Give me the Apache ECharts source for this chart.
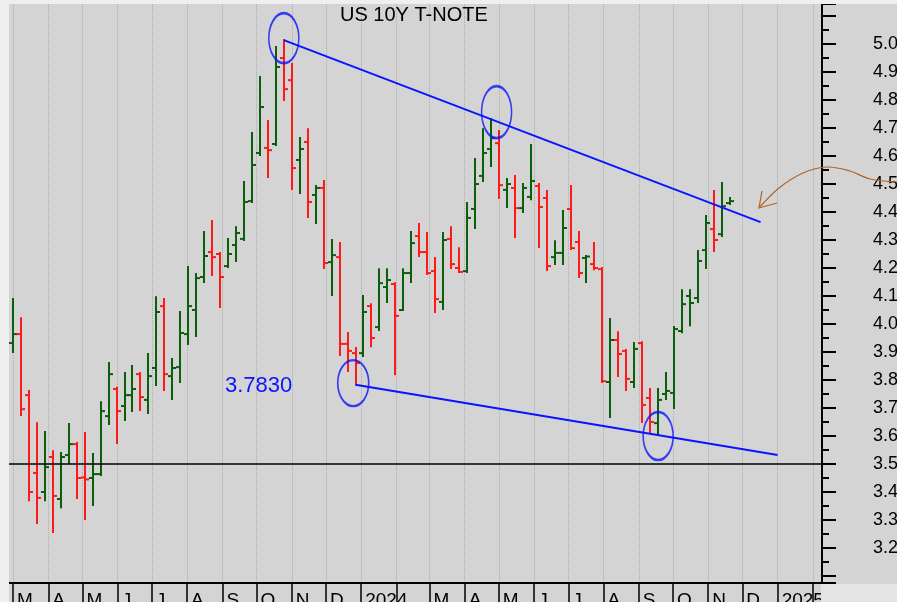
<!DOCTYPE html>
<html>
<head>
<meta charset="utf-8">
<title>US 10Y T-NOTE</title>
<script src="https://cdn.jsdelivr.net/npm/echarts@6/dist/echarts.min.js"></script>
<style>
  html, body { margin: 0; padding: 0; background: #d4d4d4; }
  #chart { width: 897px; height: 602px; }
</style>
</head>
<body>
<div id="chart"></div>
<script>
// weekly bars, first one in the week of 1 Mar 2023
const firstWeek = [2023, 2, 1]
const opens = [3.932, 3.964, 3.746, 3.468, 3.400, 3.525, 3.375, 3.532, 3.571, 3.452,
  3.450, 3.464, 3.671, 3.768, 3.707, 3.746, 3.821, 3.729, 3.843, 4.064,
  3.814, 3.846, 3.964, 4.050, 4.168, 4.257, 4.250, 4.207, 4.282, 4.304,
  4.439, 4.611, 4.629, 4.643, 4.950, 4.871, 4.586, 4.650, 4.461, 4.486,
  4.221, 4.239, 3.929, 3.896, 3.896, 4.064, 3.989, 4.132, 4.143, 4.050,
  4.182, 4.314, 4.257, 4.189, 4.079, 4.304, 4.200, 4.189, 4.411, 4.529,
  4.625, 4.646, 4.479, 4.486, 4.414, 4.454, 4.493, 4.450, 4.239, 4.254,
  4.411, 4.293, 4.236, 4.214, 4.196, 3.793, 3.943, 3.904, 3.793, 3.932,
  3.736, 3.646, 3.750, 3.754, 3.975, 4.100, 4.093, 4.264, 4.339, 4.321, 4.432]
const highs = [4.089, 4.021, 3.761, 3.646, 3.614, 3.546, 3.539, 3.643, 3.575, 3.611,
  3.536, 3.721, 3.861, 3.772, 3.825, 3.850, 3.825, 3.893, 4.096, 4.089,
  3.875, 4.043, 4.204, 4.179, 4.329, 4.368, 4.254, 4.304, 4.346, 4.507,
  4.682, 4.882, 4.725, 4.989, 5.014, 4.929, 4.664, 4.696, 4.493, 4.511,
  4.300, 4.289, 3.968, 3.914, 4.100, 4.071, 4.196, 4.196, 4.146, 4.196,
  4.329, 4.357, 4.325, 4.236, 4.325, 4.346, 4.271, 4.432, 4.589, 4.696,
  4.732, 4.689, 4.518, 4.529, 4.500, 4.639, 4.500, 4.475, 4.296, 4.404,
  4.493, 4.329, 4.243, 4.289, 4.200, 4.018, 3.971, 3.907, 3.932, 3.935,
  3.768, 3.768, 3.825, 3.989, 4.121, 4.121, 4.261, 4.386, 4.475, 4.504, 4.450]
const lows = [3.900, 3.675, 3.371, 3.289, 3.371, 3.257, 3.346, 3.504, 3.379, 3.304,
  3.354, 3.461, 3.643, 3.575, 3.657, 3.689, 3.693, 3.682, 3.782, 3.764,
  3.732, 3.793, 3.929, 3.957, 4.150, 4.175, 4.061, 4.204, 4.225, 4.300,
  4.436, 4.604, 4.525, 4.639, 4.800, 4.482, 4.468, 4.382, 4.361, 4.200,
  4.104, 3.889, 3.832, 3.783, 3.886, 3.921, 3.979, 4.079, 3.821, 4.050,
  4.150, 4.243, 4.179, 4.043, 4.054, 4.200, 4.186, 4.186, 4.343, 4.511,
  4.564, 4.450, 4.418, 4.311, 4.400, 4.446, 4.275, 4.193, 4.214, 4.214,
  4.268, 4.168, 4.150, 4.196, 3.793, 3.668, 3.814, 3.764, 3.775, 3.650,
  3.611, 3.604, 3.732, 3.700, 3.971, 3.996, 4.079, 4.200, 4.261, 4.314, 4.429]
const closes = [3.964, 3.696, 3.400, 3.379, 3.489, 3.386, 3.525, 3.571, 3.450, 3.445,
  3.464, 3.689, 3.821, 3.689, 3.746, 3.768, 3.739, 3.814, 4.043, 3.821,
  3.843, 3.968, 4.064, 4.164, 4.243, 4.239, 4.168, 4.250, 4.325, 4.436,
  4.568, 4.775, 4.621, 4.918, 4.839, 4.557, 4.625, 4.436, 4.486, 4.218,
  4.246, 3.929, 3.904, 3.861, 4.043, 3.950, 4.146, 4.157, 4.029, 4.182,
  4.289, 4.257, 4.182, 4.089, 4.300, 4.214, 4.186, 4.379, 4.500, 4.611,
  4.664, 4.496, 4.500, 4.414, 4.486, 4.511, 4.418, 4.207, 4.254, 4.343,
  4.271, 4.182, 4.241, 4.200, 3.796, 3.943, 3.893, 3.804, 3.911, 3.711,
  3.650, 3.729, 3.761, 3.982, 4.071, 4.075, 4.225, 4.361, 4.300, 4.421, 4.439]

// trend lines: [date, value] end points
const upperTrend = [['2023-10-25', 5.014], ['2024-12-17', 4.364]]
const lowerTrend = [['2023-12-27', 3.783], ['2025-01-01', 3.532]]
// highlighted turning points: date, value, ellipse size
const circles = [
  ['2023-10-25', 5.021, 30, 50],
  ['2024-04-29', 4.757, 30, 52],
  ['2023-12-25', 3.789, 31, 46],
  ['2024-09-18', 3.600, 30, 48]
]
const supportLevel = 3.5
const lowLabel = '3.7830'

const UP = '#0b5e0b'
const DOWN = '#ff1a1a'
const BLUE = '#0a14ff'
const FONT = '"Liberation Sans", Arial, sans-serif'
const MONTHS = 'JFMAMJJASOND'
const DAY = 86400000

// colour follows the close against the previous week's close
const bars = closes.map((c, i) => {
  const d = new Date(firstWeek[0], firstWeek[1], firstWeek[2] + 7 * i)
  const prev = i === 0 ? opens[0] : closes[i - 1]
  return [d.getTime(), opens[i], highs[i], lows[i], c, c >= prev ? 1 : 0]
})

function renderOhlc(params, api) {
  const t = api.value(0)
  const pO = api.coord([t, api.value(1)])
  const pH = api.coord([t, api.value(2)])
  const pL = api.coord([t, api.value(3)])
  const pC = api.coord([t, api.value(4)])
  const x = Math.round(pH[0])
  const style = { stroke: api.value(5) ? UP : DOWN, lineWidth: 2 }
  return {
    type: 'group',
    children: [
      { type: 'line', shape: { x1: x, y1: pH[1] - 1, x2: x, y2: pL[1] + 1 }, style },
      { type: 'line', shape: { x1: x - 4, y1: pO[1], x2: x, y2: pO[1] }, style },
      { type: 'line', shape: { x1: x, y1: pC[1], x2: x + 4, y2: pC[1] }, style }
    ]
  }
}

const chart = echarts.init(document.getElementById('chart'), null, { renderer: 'canvas' })

chart.setOption({
  animation: false,
  backgroundColor: '#d4d4d4',
  textStyle: { fontFamily: FONT },
  grid: { left: 8, right: 75, top: 4, bottom: 19, containLabel: false, outerBoundsMode: 'none' },
  xAxis: {
    type: 'time',
    min: new Date(2023, 1, 24, 14).getTime(),
    max: new Date(2025, 1, 9).getTime(),
    splitNumber: 24,
    minInterval: 28 * DAY,
    maxInterval: 31 * DAY,
    axisLine: { lineStyle: { color: '#000', width: 2 } },
    axisTick: { show: true, length: 20, lineStyle: { color: '#000', width: 1.5 } },
    axisLabel: {
      color: '#000', fontSize: 19, fontFamily: FONT, align: 'left', margin: 8,
      padding: [0, 0, 0, 4], showMinLabel: true, showMaxLabel: true,
      formatter: v => {
        const d = new Date(v)
        if (d.getDate() !== 1 || d.getHours() !== 0) return ''
        if (d.getMonth() === 1) return ''
        return d.getMonth() === 0 ? String(d.getFullYear()) : MONTHS[d.getMonth()]
      }
    },
    splitLine: { show: true, lineStyle: { color: '#ababab', type: 'dotted', width: 1 } }
  },
  yAxis: {
    type: 'value',
    position: 'right',
    min: 3.075,
    max: 5.143,
    splitNumber: 20,
    axisLine: { show: true, lineStyle: { color: '#000', width: 2 } },
    axisTick: { show: true, length: 14, lineStyle: { color: '#000', width: 2 } },
    minorTick: { show: true, splitNumber: 2, length: 7, lineStyle: { color: '#000', width: 2 } },
    axisLabel: {
      color: '#000', fontSize: 18, fontFamily: FONT, margin: 51,
      showMinLabel: false, showMaxLabel: false,
      formatter: v => (v > 5.05 || v < 3.15) ? '' : v.toFixed(1)
    },
    splitLine: { show: false }
  },
  series: [
    {
      type: 'custom',
      renderItem: renderOhlc,
      encode: { x: 0, y: [1, 2, 3, 4] },
      data: bars,
      silent: true,
      markLine: {
        silent: true, symbol: 'none', label: { show: false },
        lineStyle: { color: '#000', width: 1.5, type: 'solid' },
        data: [{ yAxis: supportLevel }]
      }
    },
    {
      type: 'line', data: upperTrend, symbol: 'none', silent: true, z: 3,
      lineStyle: { color: BLUE, width: 2 }
    },
    {
      type: 'line', data: lowerTrend, symbol: 'none', silent: true, z: 3,
      lineStyle: { color: BLUE, width: 2 }
    },
    {
      type: 'scatter', silent: true, z: 4,
      data: circles.map(c => ({ value: [c[0], c[1]], symbolSize: [c[2], c[3]] })),
      symbol: 'circle',
      itemStyle: { color: 'rgba(0,0,0,0)', borderColor: BLUE, borderWidth: 2 }
    }
  ],
  graphic: [
    { type: 'rect', shape: { x: 0, y: 0, width: 897, height: 4 }, style: { fill: '#efefef' }, z: 50 },
    { type: 'rect', shape: { x: 0, y: 0, width: 9, height: 602 }, style: { fill: '#efefef' }, z: 50 },
    { type: 'rect', shape: { x: 821, y: 584, width: 76, height: 18 }, style: { fill: '#e4e4e4' }, z: 50 },
    {
      type: 'text', left: 340, top: 5, z: 60,
      style: { text: 'US 10Y T-NOTE', fill: '#000', font: '20px ' + FONT }
    },
    {
      type: 'text', z: 60,
      style: { x: 225, y: 386, text: lowLabel, fill: BLUE, font: '22px ' + FONT, verticalAlign: 'middle' }
    },
    {
      type: 'polyline', z: 60,
      shape: { points: [[759, 208], [779, 188], [803, 173], [827, 167], [850, 171], [870, 179], [897, 182]], smooth: 0.35 },
      style: { stroke: '#b0652a', lineWidth: 1.2, fill: null }
    },
    {
      type: 'polyline', z: 60,
      shape: { points: [[762, 191], [759, 208], [777, 203]] },
      style: { stroke: '#b0652a', lineWidth: 1.2, fill: null }
    }
  ]
})
</script>
</body>
</html>
